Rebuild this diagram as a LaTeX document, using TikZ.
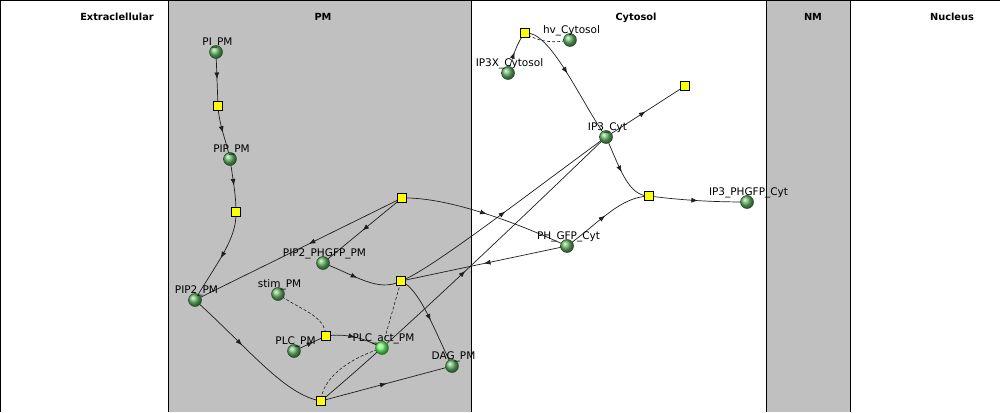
\documentclass[tikz,border=0pt]{standalone}
\usepackage{fontspec}
\setmainfont{DejaVu Sans}
\usetikzlibrary{arrows.meta,decorations.markings}
\definecolor{memb}{RGB}{192,192,192}
\definecolor{sp}{RGB}{105,185,105}
\definecolor{spact}{RGB}{110,255,110}
\definecolor{rxy}{RGB}{255,255,0}
\definecolor{edgecol}{RGB}{30,30,30}
\pgfdeclarelayer{bg}
\pgfdeclarelayer{edges}
\pgfsetlayers{bg,edges,main}
\begin{document}
\begin{tikzpicture}[x=1pt,y=-1pt,
 species/.style={circle,minimum size=13pt,inner sep=0pt,draw={rgb,255:red,30;green,80;blue,30},line width=0.5pt,ball color=sp,label distance=1pt},
 actspecies/.style={species,ball color=spact,draw={rgb,255:red,30;green,130;blue,30}},
 rxn/.style={rectangle,minimum size=9pt,inner sep=0pt,fill=rxy,draw=black,line width=0.6pt},
 lbl/.style={font=\fontsize{10.5}{11}\selectfont,inner sep=0pt,anchor=base,xshift=1.5pt},
 ttl/.style={font=\fontsize{9.8}{10}\selectfont\bfseries,inner sep=0pt,anchor=base},
 flow/.style={draw=edgecol,line width=0.7pt},
 mid/.style={postaction={decorate},decoration={markings,mark=at position #1 with {\arrow{Latex[length=6.5pt,width=5pt]}}}},
 mid/.default=0.5,
 modif/.style={draw=edgecol,line width=0.6pt,dash pattern=on 3pt off 2pt},
]
\useasboundingbox (0,0) rectangle (1000,412);
\begin{pgfonlayer}{bg}
\fill[white] (0,0) rectangle (1000,412);
\fill[memb] (168,0) rectangle (471,412);
\fill[memb] (766,0) rectangle (850,412);
\draw[black,line width=1pt] (168,0) -- (168,412) (471,0) -- (471,412) (766,0) -- (766,412) (850,0) -- (850,412);
\draw[black,line width=1.6pt] (0,412) -- (0,0) -- (1000,0);
\end{pgfonlayer}

% titles
\node[ttl] (tExtra) at (117,21) {Extraclellular};
\node[ttl] (tPM) at (323,21) {PM};
\node[ttl] (tCyt) at (636,21) {Cytosol};
\node[ttl] (tNM) at (813,21) {NM};
\node[ttl] (tNuc) at (952,21) {Nucleus};

% species
\node[species,label={[lbl]above:PI\_PM}] (PI) at (216,52) {};
\node[species,label={[lbl]above:PIP\_PM}] (PIP) at (230,159) {};
\node[species,label={[lbl]above:PIP2\_PM}] (PIP2) at (195,300) {};
\node[species,label={[lbl]above:PIP2\_PHGFP\_PM}] (PIP2PH) at (323,263) {};
\node[species,label={[lbl]above:stim\_PM}] (stim) at (278,294) {};
\node[species,label={[lbl]above:PLC\_PM}] (PLC) at (294,351) {};
\node[actspecies,label={[lbl]above:PLC\_act\_PM}] (PLCa) at (382,348) {};
\node[species,label={[lbl]above:DAG\_PM}] (DAG) at (452,366) {};
\node[species,label={[lbl]above:IP3X\_Cytosol}] (IP3X) at (508,73) {};
\node[species,label={[lbl]above:hv\_Cytosol}] (hv) at (570,40) {};
\node[species,label={[lbl]above:IP3\_Cyt}] (IP3) at (606,137) {};
\node[species,label={[lbl]above:PH\_GFP\_Cyt}] (PHGFP) at (567,246) {};
\node[species,label={[lbl]above:IP3\_PHGFP\_Cyt}] (IP3PH) at (747,202) {};

% reactions
\node[rxn] (R1) at (218,106) {};
\node[rxn] (R2) at (236,212) {};
\node[rxn] (R3) at (402,198) {};
\node[rxn] (R4) at (401,281) {};
\node[rxn] (R5) at (321,401) {};
\node[rxn] (R6) at (326,336) {};
\node[rxn] (R7) at (525,33) {};
\node[rxn] (R8) at (685,86) {};
\node[rxn] (R9) at (649,196) {};

\begin{pgfonlayer}{edges}
\draw[flow,mid] (PI.center) -- (R1.center);
\draw[flow,mid] (R1.center) .. controls (219,125) and (226,140) .. (PIP.center);
\draw[flow,mid] (PIP.center) .. controls (233,180) and (236,195) .. (R2.center);
\draw[flow,mid] (R2.center) .. controls (237,240) and (215,265) .. (PIP2.center);
\draw[flow,mid=0.45] (R3.center) -- (PIP2.center);
\draw[flow,mid] (R3.center) -- (PIP2PH.center);
\draw[flow,mid] (R3.center) .. controls (440,197) and (500,215) .. (PHGFP.center);
\draw[flow,mid=0.45] (PIP2PH.center) .. controls (355,275) and (378,293) .. (R4.center);
\draw[flow,mid] (R4.center) .. controls (420,290) and (432,325) .. (DAG.center);
\draw[flow,mid] (R4.center) .. controls (430,270) and (520,200) .. (IP3.center);
\draw[flow,mid] (PHGFP.center) -- (R4.center);
\draw[modif] (PLCa.center) -- (R4.center);
\draw[flow,mid=0.4] (PIP2.center) .. controls (250,350) and (285,395) .. (R5.center);
\draw[flow,mid] (R5.center) -- (DAG.center);
\draw[flow,mid] (R5.center) .. controls (400,335) and (530,210) .. (IP3.center);
\draw[modif] (PLCa.center) .. controls (345,360) and (322,380) .. (R5.center);
\draw[flow,mid=0.6] (PLC.center) -- (R6.center);
\draw[flow,mid] (R6.center) .. controls (345,333) and (365,338) .. (PLCa.center);
\draw[modif] (stim.center) .. controls (300,310) and (325,315) .. (R6.center);
\draw[flow,mid] (IP3X.center) .. controls (512,58) and (518,40) .. (R7.center);
\draw[modif] (hv.center) .. controls (555,43) and (540,43) .. (R7.center);
\draw[flow,mid=0.45] (R7.center) .. controls (550,30) and (580,100) .. (IP3.center);
\draw[flow,mid] (IP3.center) -- (R8.center);
\draw[flow,mid] (IP3.center) .. controls (620,168) and (628,196) .. (R9.center);
\draw[flow,mid] (PHGFP.center) .. controls (600,222) and (620,197) .. (R9.center);
\draw[flow,mid] (R9.center) .. controls (680,200) and (710,202) .. (IP3PH.center);
\end{pgfonlayer}
\end{tikzpicture}
\end{document}
